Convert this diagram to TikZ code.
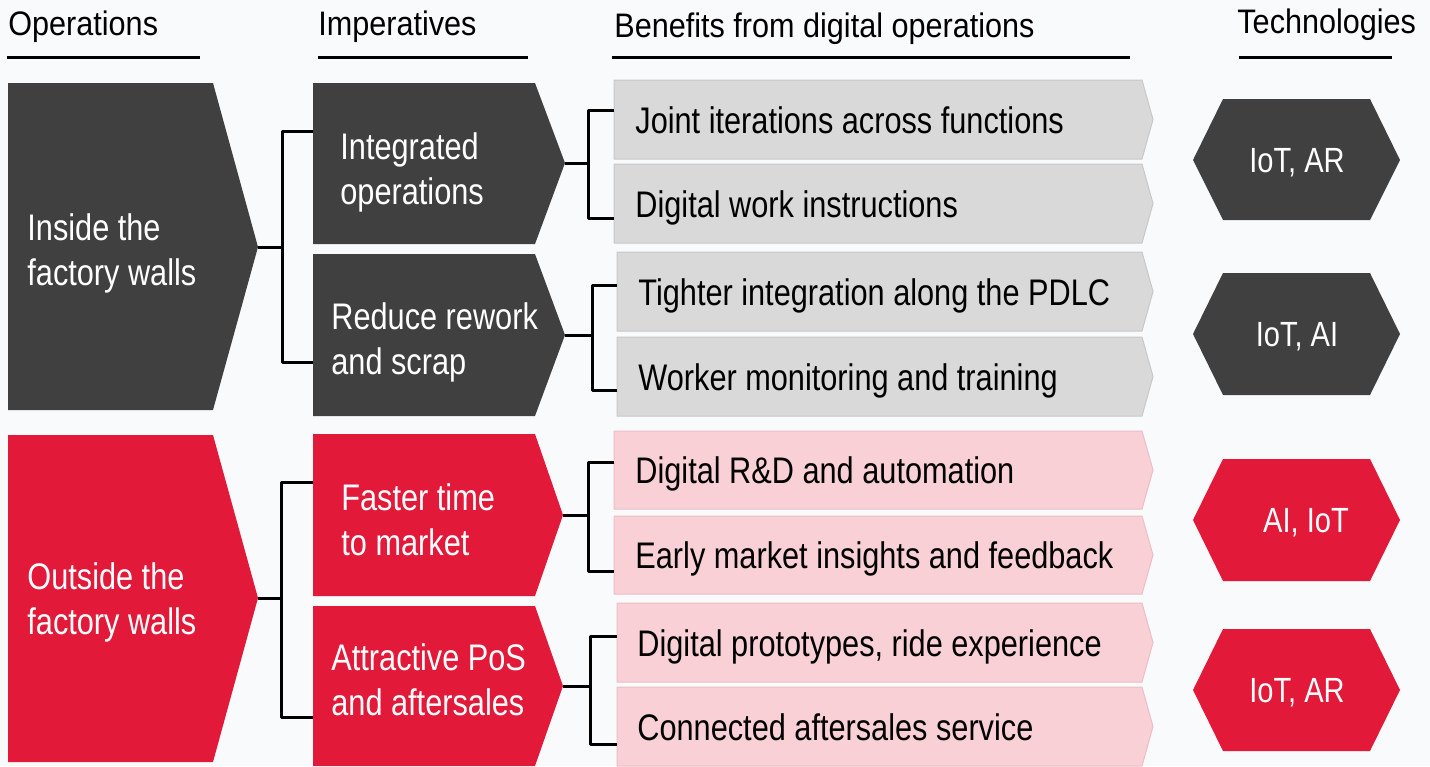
\documentclass[tikz,border=0pt]{standalone}
\usepackage{fontspec}
\setmainfont[FakeStretch=0.83]{Liberation Sans}
\newfontfamily\hdrfont[FakeStretch=0.9]{Liberation Sans}
\definecolor{dgray}{RGB}{64,64,64}
\definecolor{cred}{RGB}{227,25,58}
\definecolor{cpink}{RGB}{248,208,214}
\definecolor{cpinkb}{RGB}{236,190,198}
\definecolor{lgray}{RGB}{217,217,217}
\definecolor{lgrayb}{RGB}{200,200,200}
\definecolor{bgc}{RGB}{249,250,252}
\begin{document}
\begin{tikzpicture}[x=0.5pt,y=-0.5pt,
  hdr/.style={font=\hdrfont\fontsize{17}{20}\selectfont, anchor=base west, inner sep=0pt},
  uline/.style={line width=1.5pt},
  conn/.style={line width=1.5pt, line join=round},
  wtxt/.style={text=white, font=\fontsize{18.5}{22.5}\selectfont, align=left, anchor=west, inner sep=0pt},
  btxt/.style={font=\fontsize{18.5}{20}\selectfont, anchor=base west, inner sep=0pt},
  htxt/.style={text=white, font=\fontsize{17.5}{20}\selectfont, anchor=base, inner sep=0pt},
  grayben/.style={fill=lgray, draw=lgrayb, line width=0.5pt},
  pinkben/.style={fill=cpink, draw=cpinkb, line width=0.5pt}]
\fill[bgc] (0,0) rectangle (1430,766);
\useasboundingbox (0,0) rectangle (1430,766);

% headers
\node[hdr] (h1) at (8,35) {Operations};
\node[hdr] (h2) at (318,35) {Imperatives};
\node[hdr] (h3) at (614,37) {Benefits from digital operations};
\node[hdr] (h4) at (1237,33) {Technologies};
\draw[uline] (7,57) -- (200,57);
\draw[uline] (318,57) -- (528,57);
\draw[uline] (612,57) -- (1130,57);
\draw[uline] (1239,57) -- (1392,57);

% operations chevrons
\fill[dgray] (8,83) -- (213,83) -- (258,247) -- (213,410) -- (8,410) -- cycle;
\coordinate (opA) at (258,247);
\node[wtxt] (opin) at (27,253) {Inside the\\factory walls};
\fill[cred] (8,435) -- (213,435) -- (258,598) -- (213,762) -- (8,762) -- cycle;
\coordinate (opB) at (258,598);
\node[wtxt] (opout) at (27,602) {Outside the\\factory walls};

% imperatives
\fill[dgray] (313,83) -- (535,83) -- (565,163) -- (535,244) -- (313,244) -- cycle;
\coordinate (imA) at (565,163);
\node[wtxt] (im1) at (340,172) {Integrated\\operations};
\fill[dgray] (313,254) -- (535,254) -- (565,335) -- (535,416) -- (313,416) -- cycle;
\coordinate (imB) at (565,335);
\node[wtxt] (im2) at (331,342) {Reduce rework\\and scrap};
\fill[cred] (313,434) -- (535,434) -- (563,515) -- (535,596) -- (313,596) -- cycle;
\coordinate (imC) at (563,515);
\node[wtxt] (im3) at (341,520) {Faster time\\to market};
\fill[cred] (313,606) -- (535,606) -- (563,686) -- (535,766) -- (313,766) -- cycle;
\coordinate (imD) at (563,686);
\node[wtxt] (im4) at (331,680) {Attractive PoS\\and aftersales};

% benefits
\draw[grayben] (614,80) -- (1142,80) -- (1153,119.5) -- (1142,159) -- (614,159) -- cycle;
\node[btxt] (b1) at (635,133) {Joint iterations across functions};
\draw[grayben] (614,164) -- (1142,164) -- (1153,203.5) -- (1142,243) -- (614,243) -- cycle;
\node[btxt] (b2) at (635,217) {Digital work instructions};
\draw[grayben] (617,252) -- (1142,252) -- (1153,291.5) -- (1142,331) -- (617,331) -- cycle;
\node[btxt] (b3) at (638,305) {Tighter integration along the PDLC};
\draw[grayben] (617,337) -- (1142,337) -- (1153,376.5) -- (1142,416) -- (617,416) -- cycle;
\node[btxt] (b4) at (638,390) {Worker monitoring and training};
\draw[pinkben] (614,431) -- (1142,431) -- (1153,470) -- (1142,509) -- (614,509) -- cycle;
\node[btxt] (b5) at (635,483) {Digital R\&D and automation};
\draw[pinkben] (614,516) -- (1142,516) -- (1153,555) -- (1142,594) -- (614,594) -- cycle;
\node[btxt] (b6) at (635,568) {Early market insights and feedback};
\draw[pinkben] (617,603) -- (1142,603) -- (1153,642.5) -- (1142,682) -- (617,682) -- cycle;
\node[btxt] (b7) at (637,656) {Digital prototypes, ride experience};
\draw[pinkben] (617,687) -- (1142,687) -- (1153,726.5) -- (1142,766) -- (617,766) -- cycle;
\node[btxt] (b8) at (637,740) {Connected aftersales service};

% technologies
\fill[dgray] (1193,160) -- (1223,99) -- (1370,99) -- (1400,160) -- (1370,220) -- (1223,220) -- cycle;
\node[htxt] (t1) at (1297,172) {IoT, AR};
\fill[dgray] (1193,334) -- (1223,273) -- (1370,273) -- (1400,334) -- (1370,395) -- (1223,395) -- cycle;
\node[htxt] (t2) at (1297,346) {IoT, AI};
\fill[cred] (1193,520) -- (1223,459) -- (1370,459) -- (1400,520) -- (1370,581) -- (1223,581) -- cycle;
\node[htxt] (t3) at (1306,532) {AI, IoT};
\fill[cred] (1193,690) -- (1223,629) -- (1370,629) -- (1400,690) -- (1370,751) -- (1223,751) -- cycle;
\node[htxt] (t4) at (1297,702) {IoT, AR};

% connector end points
\coordinate (a1) at (313,131); \coordinate (a2) at (313,362);
\coordinate (a3) at (313,482); \coordinate (a4) at (313,717);
\coordinate (c1) at (614,110); \coordinate (c2) at (614,218);
\coordinate (c3) at (617,285); \coordinate (c4) at (617,390);
\coordinate (c5) at (614,462); \coordinate (c6) at (614,571);
\coordinate (c7) at (617,636); \coordinate (c8) at (617,744);

% brackets
\draw[conn] (a1) -- +(-31,0) |- (a2);
\draw[conn] (opA) -- +(24,0);
\draw[conn] (a3) -- +(-32,0) |- (a4);
\draw[conn] (opB) -- +(23,0);
\draw[conn] (c1) -- +(-26,0) |- (c2);
\draw[conn] (imA) -- +(23,0);
\draw[conn] (c3) -- +(-25,0) |- (c4);
\draw[conn] (imB) -- +(27,0);
\draw[conn] (c5) -- +(-26,0) |- (c6);
\draw[conn] (imC) -- +(25,0);
\draw[conn] (c7) -- +(-27,0) |- (c8);
\draw[conn] (imD) -- +(27,0);
\end{tikzpicture}
\end{document}
